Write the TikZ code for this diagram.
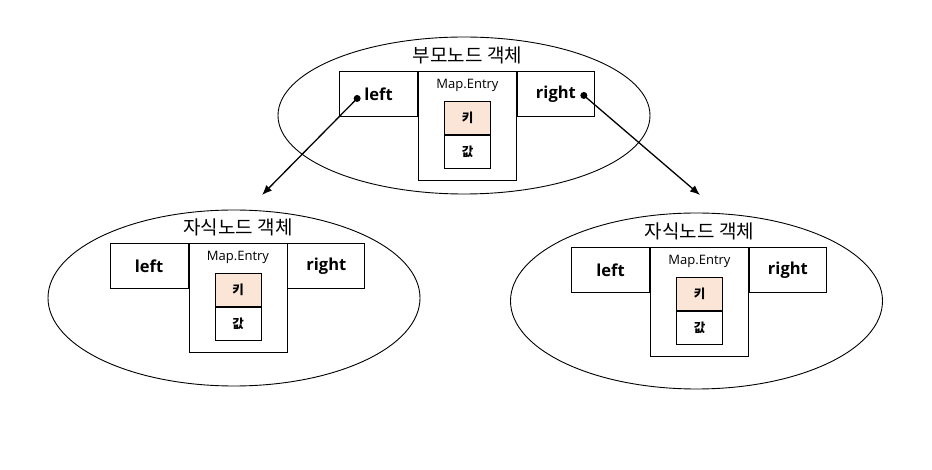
\documentclass[tikz,border=0pt]{standalone}
\usepackage{fontspec}
\setmainfont{Open Sans}
\newfontfamily\krfont{Noto Sans CJK KR}
\usetikzlibrary{arrows.meta,shapes.geometric,positioning}
\definecolor{keypeach}{HTML}{FBE5D6}
\tikzset{
  cell/.style={draw, line width=0.9pt, inner sep=0pt, font=\bfseries\fontsize{16.5}{19}\selectfont},
  keycell/.style={cell, minimum width=46pt, minimum height=33pt, font=\krfont\bfseries\fontsize{12.5}{14}\selectfont},
  shell/.style={draw, ellipse, line width=0.9pt, inner sep=0pt},
  ptr/.style={line width=1.3pt, -{Latex[length=10pt,width=8pt]}},
  dot/.style={circle, fill=black, inner sep=0pt, minimum size=7pt}
}

\begin{document}
\begin{tikzpicture}[x=1pt,y=-1pt]
\useasboundingbox (0,0) rectangle (932,470);

% name / entry top centre / ellipse centre / y radius / title
\def\objects{
par/467.5/71/464/115.5/78.5/부모노드 객체,
lc/238/243/234/298/88/자식노드 객체,
rc/699.5/247/696.5/301/88/자식노드 객체
}

\foreach \o/\cx/\ty/\ex/\ey/\ry/\title in \objects
{
% the object itself
\node[shell, minimum width=372pt, minimum height=2*\ry pt] (\o-shell) at (\ex,\ey) {};
\node[cell, anchor=north, minimum width=98pt, minimum height=109pt] (\o-entry) at (\cx,\ty) {};
\node[font=\krfont\fontsize{19}{22}\selectfont] (\o-title) at ([yshift=16pt]\o-entry.north) {\title};
\node[font=\fontsize{13}{15}\selectfont] (\o-cap) at ([yshift=-14pt]\o-entry.north) {Map.Entry};

% left / right fields
\node[cell, anchor=north east, minimum width=78pt, minimum height=45pt] (\o-left) at (\o-entry.north west) {left};
\node[cell, anchor=north west, minimum width=77pt, minimum height=45pt] (\o-right) at (\o-entry.north east) {right};

% key / value
\node[keycell, fill=keypeach, anchor=north] (\o-key) at ([yshift=-30pt]\o-entry.north) {키};
\node[keycell, anchor=north] (\o-val) at (\o-key.south) {값};
}

% pointers to the children
\node[dot] (par-ldot) at ([xshift=18pt,yshift=-4.5pt]par-left.west) {};
\node[dot] (par-rdot) at ([xshift=-11pt,yshift=-1.5pt]par-right.east) {};
\coordinate (lc-in) at (262,195);
\coordinate (rc-in) at (700,195);
\draw[ptr] (par-ldot.center) -- (lc-in);
\draw[ptr] (par-rdot.center) -- (rc-in);
\end{tikzpicture}
\end{document}
